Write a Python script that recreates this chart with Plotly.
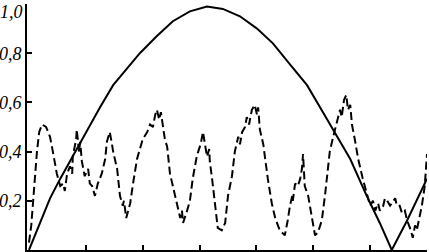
import plotly.graph_objects as go

# Solid curve
solid_x = [0.00, 0.19, 0.37, 0.55, 0.72, 0.90, 1.13, 1.25, 1.48, 1.69, 1.95, 2.25, 2.53, 2.83,
           3.13, 3.41, 3.71, 4.01, 4.29, 4.59, 4.89, 5.17, 5.35, 5.65, 5.94, 6.17, 6.38, 6.65, 7.00]
solid_y = [0.00, 0.11, 0.21, 0.29, 0.36, 0.44, 0.53, 0.58, 0.67, 0.73, 0.80, 0.87, 0.93, 0.97,
           0.99, 0.98, 0.95, 0.90, 0.84, 0.755, 0.67, 0.56, 0.49, 0.37, 0.22, 0.11, 0.00, 0.12, 0.29]

# Dashed noisy curve
dash_x = [0.00, 0.04, 0.07, 0.11, 0.14, 0.18, 0.23, 0.30, 0.37, 0.42, 0.49, 0.55, 0.60, 0.63,
          0.67, 0.72, 0.76, 0.77, 0.83, 0.84, 0.88, 0.90, 0.93, 0.98, 1.04, 1.07, 1.11, 1.16,
          1.21, 1.28, 1.34, 1.37, 1.42, 1.46, 1.48, 1.55, 1.60, 1.65, 1.67, 1.71, 1.74, 1.78,
          1.83, 1.90, 1.95, 2.00, 2.08, 2.13, 2.18, 2.22, 2.25, 2.29, 2.32, 2.36, 2.39, 2.43,
          2.48, 2.53, 2.60, 2.66, 2.69, 2.71, 2.78, 2.83, 2.88, 2.95, 2.99, 3.02, 3.06, 3.10,
          3.13, 3.17, 3.18, 3.22, 3.27, 3.32, 3.39, 3.45, 3.50, 3.57, 3.62, 3.68, 3.71, 3.75,
          3.80, 3.83, 3.87, 3.92, 3.97, 4.01, 4.03, 4.06, 4.12, 4.15, 4.20, 4.27, 4.33, 4.41,
          4.50, 4.55, 4.59, 4.63, 4.64, 4.68, 4.73, 4.77, 4.80, 4.82, 4.85, 4.91, 4.98, 5.03,
          5.08, 5.15, 5.21, 5.26, 5.29, 5.35, 5.42, 5.47, 5.50, 5.54, 5.58, 5.61, 5.65, 5.68,
          5.73, 5.79, 5.87, 5.94, 6.00, 6.05, 6.09, 6.14, 6.17, 6.23, 6.26, 6.30, 6.35, 6.38,
          6.44, 6.47, 6.52, 6.56, 6.61, 6.65, 6.70, 6.75, 6.79, 6.82, 6.88, 6.91, 6.96, 7.00]
dash_y = [0.03, 0.10, 0.19, 0.31, 0.40, 0.48, 0.51, 0.50, 0.46, 0.40, 0.31, 0.26, 0.27, 0.24,
          0.31, 0.34, 0.31, 0.38, 0.45, 0.49, 0.40, 0.44, 0.36, 0.30, 0.33, 0.27, 0.26, 0.22,
          0.27, 0.31, 0.37, 0.44, 0.48, 0.43, 0.40, 0.33, 0.22, 0.18, 0.20, 0.13, 0.16, 0.19,
          0.27, 0.37, 0.41, 0.45, 0.48, 0.51, 0.50, 0.55, 0.57, 0.53, 0.56, 0.50, 0.45, 0.42,
          0.31, 0.26, 0.19, 0.13, 0.16, 0.11, 0.16, 0.20, 0.29, 0.38, 0.41, 0.43, 0.48, 0.41,
          0.38, 0.41, 0.36, 0.29, 0.18, 0.09, 0.08, 0.11, 0.22, 0.30, 0.40, 0.46, 0.43, 0.48,
          0.50, 0.54, 0.51, 0.57, 0.59, 0.55, 0.58, 0.49, 0.43, 0.37, 0.29, 0.19, 0.13, 0.08,
          0.06, 0.12, 0.18, 0.22, 0.20, 0.27, 0.26, 0.29, 0.33, 0.39, 0.26, 0.22, 0.12, 0.06,
          0.07, 0.12, 0.23, 0.34, 0.40, 0.46, 0.52, 0.57, 0.54, 0.61, 0.63, 0.57, 0.59, 0.51,
          0.45, 0.37, 0.29, 0.23, 0.18, 0.20, 0.16, 0.19, 0.16, 0.18, 0.21, 0.20, 0.18, 0.19,
          0.21, 0.18, 0.18, 0.15, 0.16, 0.12, 0.09, 0.05, 0.10, 0.08, 0.14, 0.18, 0.26, 0.39]

x_ticks = [1, 2, 3, 4, 5, 6, 7]
y_ticks = [0.2, 0.4, 0.6, 0.8, 1.0]
y_labels = ["0,2", "0,4", "0,6", "0,8", ""]
top_label = "1,0"

label_font = dict(family="Liberation Serif", size=18, color="black", style="italic")

fig = go.Figure()
fig.add_trace(go.Scatter(x=solid_x, y=solid_y, mode="lines",
                         line=dict(color="black", width=2), showlegend=False))
fig.add_trace(go.Scatter(x=dash_x, y=dash_y, mode="lines",
                         line=dict(color="black", width=2, dash="8px,4px"), showlegend=False))

fig.update_layout(
    width=429, height=252,
    margin=dict(l=27, r=2, t=4, b=2, autoexpand=False),
    paper_bgcolor="white", plot_bgcolor="white",
    xaxis=dict(range=[-0.035, 7], showgrid=False, zeroline=False, automargin=False,
               showline=True, linecolor="black", linewidth=2,
               ticks="inside", ticklen=5, tickwidth=1.5, tickcolor="black",
               tickvals=x_ticks, showticklabels=False),
    yaxis=dict(range=[0, 1.0], showgrid=False, zeroline=False, automargin=False,
               showline=True, linecolor="black", linewidth=2,
               ticks="inside", ticklen=5, tickwidth=1.5, tickcolor="black",
               tickvals=y_ticks, ticktext=y_labels, tickfont=label_font),
    annotations=[dict(text=top_label, xref="paper", yref="paper", x=0, y=1,
                      xanchor="right", yanchor="top", xshift=-2, yshift=4,
                      showarrow=False, font=label_font)],
)

fig.write_html("out.html", config={"displayModeBar": False},
               post_script="document.body.style.margin='0';document.body.style.padding='0';")
